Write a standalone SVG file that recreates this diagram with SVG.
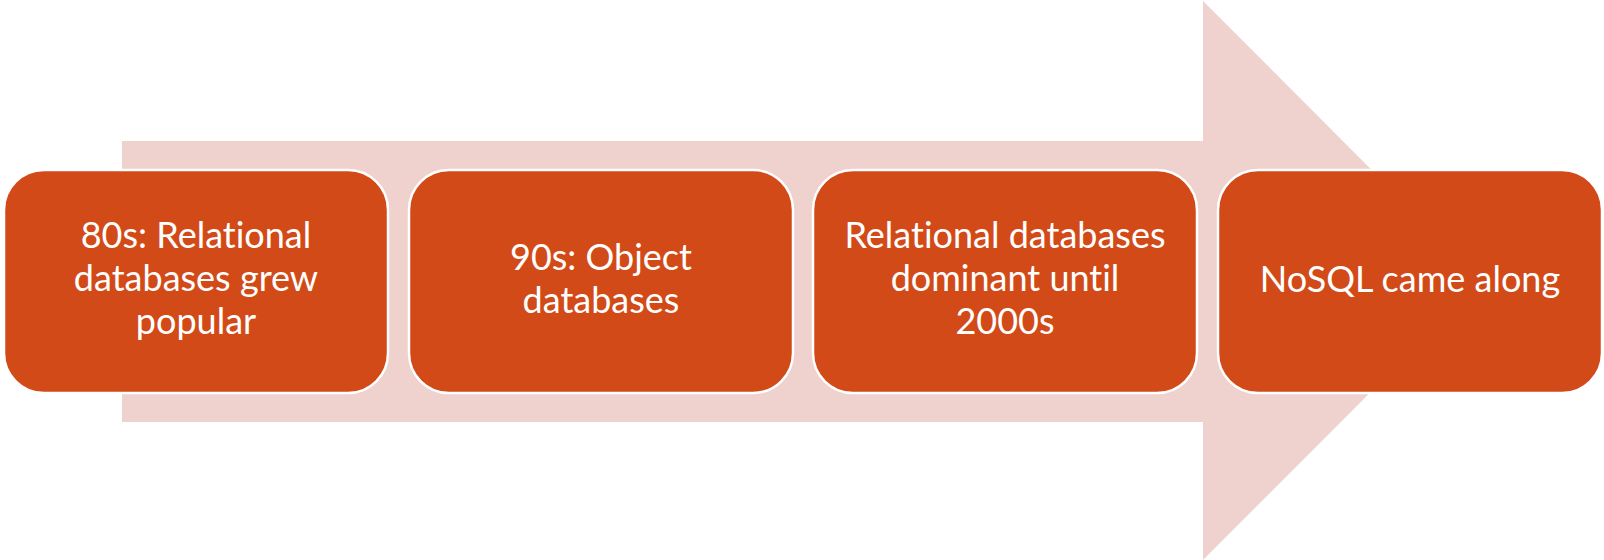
<svg xmlns="http://www.w3.org/2000/svg" width="1604" height="560" viewBox="0 0 1604 560">
  <style>
    .box { fill: #D24A18; stroke: #FFFFFF; stroke-width: 2.5; }
    .label { font-family: Lato, "Open Sans", "Liberation Sans", sans-serif; font-size: 36px; fill: #FFFFFF; text-anchor: middle; font-variant-ligatures: none; }
  </style>
  <rect width="1604" height="560" fill="#FFFFFF"/>
  <!-- background process arrow -->
  <g id="connectors">
    <polygon points="122,141 1203,141 1203,1 1482,280.5 1203,560 1203,422 122,422" fill="#EFD1CE"/>
  </g>
  <g id="step1">
    <rect class="box" x="4" y="170" width="384" height="223" rx="40" ry="40"/>
    <text class="label" x="196" y="248">80s: Relational</text>
    <text class="label" x="196" y="291">databases grew</text>
    <text class="label" x="196" y="334">popular</text>
  </g>
  <g id="step2">
    <rect class="box" x="409" y="170" width="384" height="223" rx="40" ry="40"/>
    <text class="label" x="601" y="270">90s: Object</text>
    <text class="label" x="601" y="313">databases</text>
  </g>
  <g id="step3">
    <rect class="box" x="813" y="170" width="384" height="223" rx="40" ry="40"/>
    <text class="label" x="1005" y="248">Relational databases</text>
    <text class="label" x="1005" y="291">dominant until</text>
    <text class="label" x="1005" y="334">2000s</text>
  </g>
  <g id="step4">
    <rect class="box" x="1218" y="170" width="384" height="223" rx="40" ry="40"/>
    <text class="label" x="1410" y="292">NoSQL came along</text>
  </g>
</svg>
